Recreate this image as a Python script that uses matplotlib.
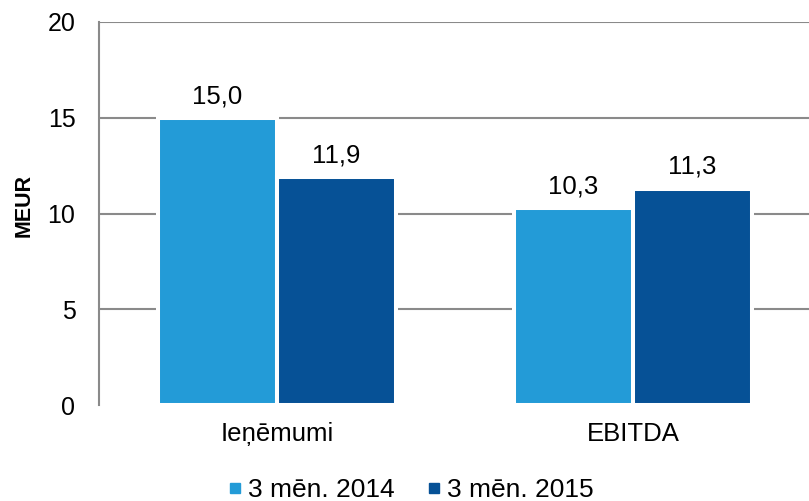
import matplotlib.pyplot as plt
import numpy as np

plt.rcParams['font.family'] = ['Liberation Sans', 'DejaVu Sans']
plt.rcParams['font.size'] = 18

categories = ['Ieņēmumi', 'EBITDA']
series_names = ['3 mēn. 2014', '3 mēn. 2015']
values_2014 = [15.0, 10.3]
values_2015 = [11.9, 11.3]
colors = ['#239bd7', '#065196']

fig = plt.figure(figsize=(8.09, 5.01), dpi=100)
ax = fig.add_axes([0.1224, 0.1916, 0.88, 0.7645])

x = np.arange(len(categories))
w = 0.334
b1 = ax.bar(x - w / 2, values_2014, w, color=colors[0], edgecolor='white', linewidth=2.9, zorder=3, label=series_names[0])
b2 = ax.bar(x + w / 2, values_2015, w, color=colors[1], edgecolor='white', linewidth=2.9, zorder=3, label=series_names[1])

for bars, vals in [(b1, values_2014), (b2, values_2015)]:
    for rect, v in zip(bars, vals):
        ax.annotate(f'{v:.1f}'.replace('.', ','), (rect.get_x() + rect.get_width() / 2, v),
                    xytext=(0, 7), textcoords='offset points', ha='center', va='bottom', fontsize=18.5)

for yv in [5, 10, 15, 20]:
    ax.axhline(yv, color='#8a8a8a', lw=1.5, zorder=1)

ax.set_ylim(0, 20)
ax.set_xlim(-0.5, 1.5)
ax.set_yticks([0, 5, 10, 15, 20])
ax.set_xticks(x)
ax.set_xticklabels(categories, fontsize=18.5)
ax.tick_params(axis='y', length=0, pad=17, labelsize=18)
ax.tick_params(axis='x', length=0, pad=12)
for s in ['top', 'right', 'bottom']:
    ax.spines[s].set_visible(False)
ax.spines['left'].set_color('#8a8a8a')
ax.spines['left'].set_linewidth(1.5)
ax.set_ylabel('MEUR', fontweight='bold', fontsize=15.5)
ax.yaxis.set_label_coords(-0.09, 0.52)

handles = [plt.Line2D([], [], marker='s', linestyle='', color=c, markersize=7) for c in colors]
fig.legend(handles, series_names, loc='center', bbox_to_anchor=(0.504, 0.022), ncol=2,
           frameon=False, handletextpad=0.0, columnspacing=1.0, handlelength=1.0, fontsize=19)

fig.savefig('out.png', dpi=100)
